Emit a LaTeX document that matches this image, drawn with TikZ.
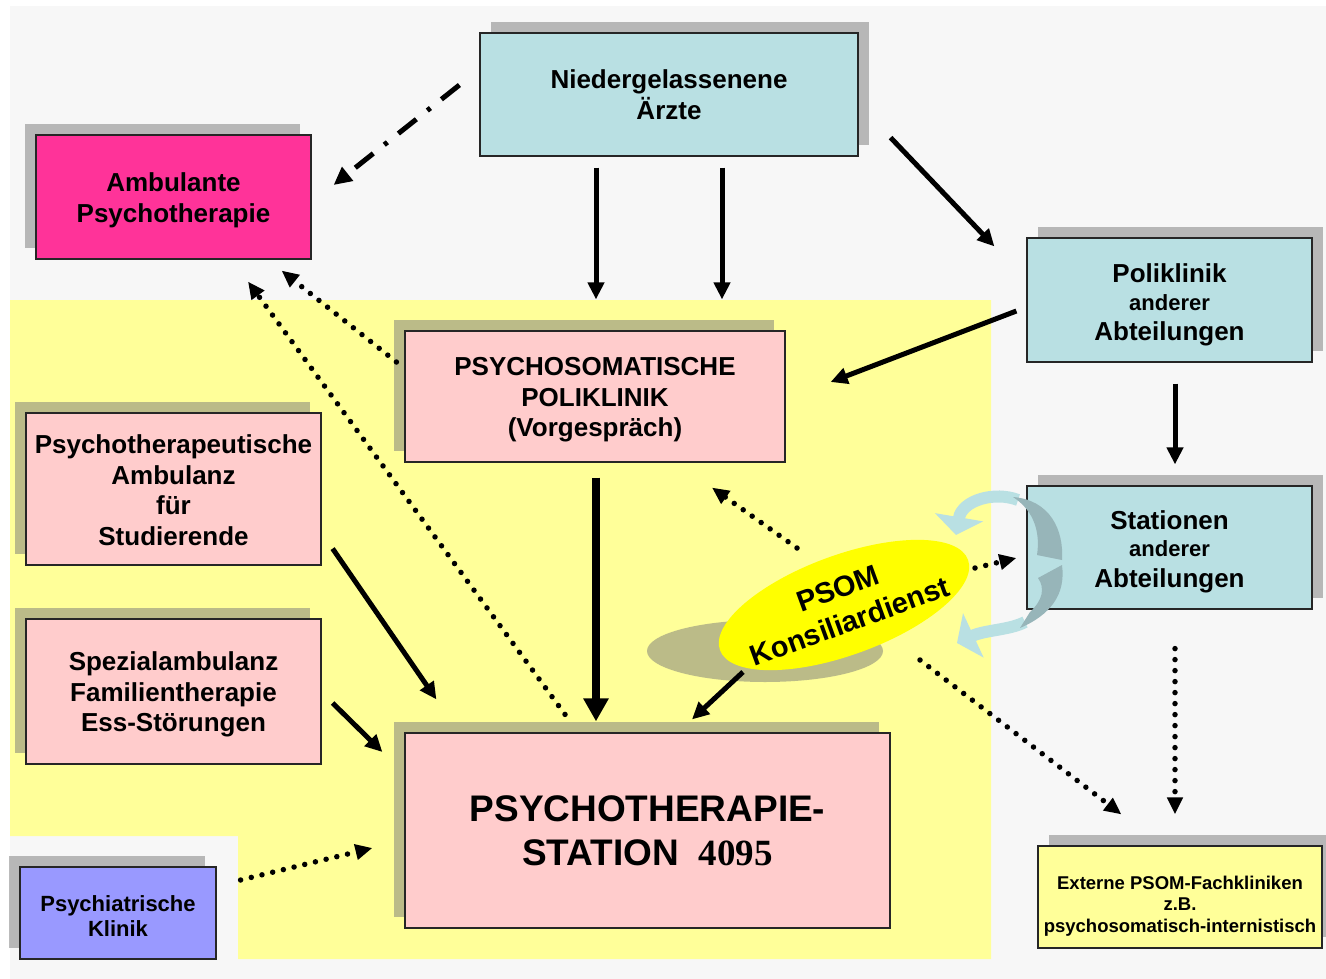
\documentclass[tikz,border=0pt]{standalone}
\usepackage{fontspec}
\setmainfont{Liberation Sans}
\newfontfamily\timesfont{Liberation Serif}
\usetikzlibrary{positioning, calc, shadows, shapes.geometric, arrows.meta}
\definecolor{bggray}{HTML}{F7F7F7}
\definecolor{areayellow}{HTML}{FFFF99}
\definecolor{boxblue}{HTML}{B9E0E3}
\definecolor{boxdarkblue}{HTML}{97B5B9}
\definecolor{boxpink}{HTML}{FFCCCC}
\definecolor{boxmagenta}{HTML}{FF3399}
\definecolor{boxviolet}{HTML}{9999FF}
\definecolor{psomyellow}{HTML}{FFFF00}
\definecolor{shadowgray}{HTML}{787878}
\newcommand{\lift}[1]{\rule{0pt}{#1}}
\tikzset{
	basebox/.style={
			shape=rectangle,
			draw=black!85,
			line width=1.2pt,
			inner sep=0pt,
			align=center,
			font=\bfseries\fontsize{26}{30.5}\selectfont
		},
	leftbox/.style={
			basebox,
			drop shadow={shadow xshift=-11pt, shadow yshift=11pt, fill=shadowgray, opacity=.5}
		},
	rightbox/.style={
			basebox,
			drop shadow={shadow xshift=11pt, shadow yshift=11pt, fill=shadowgray, opacity=.5}
		},
	psomshape/.style={
			ellipse,
			fill=psomyellow,
			minimum width=264pt,
			minimum height=100pt,
			inner sep=0pt
		},
	psomlabel/.style={
			align=center,
			inner sep=0pt,
			font=\bfseries\fontsize{29}{35}\selectfont
		}
}
\tikzset{
	flowarrow/.style={line width=5pt, -{Triangle[width=16pt,length=17pt]}},
	heavyarrow/.style={line width=8pt, -{Triangle[width=24pt,length=23pt]}},
	dotarrow/.style={line width=5.5pt, line cap=round, dash pattern=on 0pt off 11pt,
			-{Triangle[width=15pt,length=17pt]}},
	dashdotarrow/.style={line width=5pt, dash pattern=on 23pt off 14pt on 4pt off 14pt,
			-{Triangle[width=17pt,length=18pt]}},
	swirl/.style={draw=boxblue, line width=12pt, -{Triangle[width=48pt,length=18pt]}}
}

\begin{document}
\begin{tikzpicture}[x=1pt, y=-1pt]

  \useasboundingbox (0,0) rectangle (1326,979);
  \fill[white] (0,0) rectangle (1326,979);
  \fill[bggray] (10,6) rectangle (1326,979);
  \fill[areayellow] (10,300) -- (991,300) -- (991,959) -- (238,959) -- (238,836) -- (10,836) -- cycle;

  % shadow of the consultation ellipse
  \fill[shadowgray, opacity=.5] (765,651) ellipse [x radius=118, y radius=31];

  \node[rightbox, fill=boxblue, minimum width=378pt, minimum height=123pt] (aerzte) at (669,94.5) {Niedergelassenene\\Ärzte};
  \node[leftbox, fill=boxmagenta, minimum width=275pt, minimum height=124pt] (ambu) at (173.5,197) {\lift{25.7pt}Ambulante\\Psychotherapie};
  \node[leftbox, fill=boxpink, minimum width=380pt, minimum height=131pt] (psompoli) at (595,396.5) {\lift{24.6pt}PSYCHOSOMATISCHE\\POLIKLINIK\\(Vorgespräch)};
  \node[leftbox, fill=boxpink, minimum width=295pt, minimum height=152pt] (studamb) at (173.5,489) {\lift{21.6pt}Psychotherapeutische\\Ambulanz\\für\\Studierende};
  \node[leftbox, fill=boxpink, minimum width=295pt, minimum height=145pt] (spezamb) at (173.5,691.5) {\lift{24.7pt}Spezialambulanz\\Familientherapie\\Ess-Störungen};
  \node[leftbox, fill=boxviolet, minimum width=196pt, minimum height=92pt,
    font=\bfseries\fontsize{22}{25}\selectfont] (psychiat) at (118,913) {\lift{21.8pt}Psychiatrische\\Klinik};
  \node[leftbox, fill=boxpink, minimum width=485pt, minimum height=195pt,
    font=\bfseries\fontsize{37}{44}\selectfont] (station) at (647.5,830.5) {PSYCHOTHERAPIE-\\STATION\hspace{20pt}{\timesfont 4095}};
  \node[rightbox, fill=boxblue, minimum width=285pt, minimum height=124pt] (polio) at (1169.5,300) {\lift{28.7pt}Poliklinik\\[-3pt]{\fontsize{22}{29}\selectfont anderer}\\Abteilungen};
  \node[rightbox, fill=boxblue, minimum width=285pt, minimum height=123pt] (stat) at (1169.5,547.5) {\lift{26.7pt}Stationen\\[-3pt]{\fontsize{22}{29}\selectfont anderer}\\Abteilungen};
  \node[rightbox, fill=areayellow, minimum width=284pt, minimum height=102pt,
    font=\bfseries\fontsize{18.5}{21.5}\selectfont] (extern) at (1180,897) {\lift{31pt}Externe PSOM-Fachkliniken\\z.B.\\psychosomatisch-internistisch};

  \node[psomshape, rotate=20] (psomback) at (844,605) {};
  \node[psomlabel, rotate=20] (psom) at (844,605) {PSOM\\Konsiliardienst};

  % curved arrows round the wards
  \draw[swirl] (1018,500) .. controls (995,491) and (962,500) .. (956,535);
  \draw[swirl] (1025,622) .. controls (1010,630) and (985,630) .. (957,643);
  \fill[boxdarkblue] (1013,497) .. controls (1050,500) and (1064,530) .. (1062,560)
    -- (1037,555) .. controls (1040,535) and (1036,512) .. (1013,497) -- cycle;
  \fill[boxdarkblue] (1062,565) .. controls (1066,595) and (1050,615) .. (1020,628)
    -- (1030,612) .. controls (1043,600) and (1045,588) .. (1038,578) -- cycle;

  \draw[dashdotarrow] ([shift={(-20,-9.5)}]aerzte.west) -- ([shift={(22,-12)}]ambu.east);
  \draw[flowarrow] ([shift={(-73,11)}]aerzte.south) -- ([shift={(1,-31)}]psompoli.north);
  \draw[flowarrow] ([shift={(53,11)}]aerzte.south) -- ([shift={(127,-31)}]psompoli.north);
  \draw[flowarrow] ([shift={(32,-19)}]aerzte.south east) -- ([shift={(-32,9)}]polio.north west);
  \draw[flowarrow] ([shift={(-10,11)}]polio.west) -- ([shift={(45,-14.5)}]psompoli.east);
  \draw[flowarrow] ([shift={(5.5,21)}]polio.south) -- ([shift={(5.5,-21)}]stat.north);
  \draw[dotarrow] ([shift={(5.5,39)}]stat.south) -- ([shift={(-5,-31)}]extern.north);
  \draw[dotarrow] ([shift={(76,55)}]psom.center) -- ([shift={(84,-31)}]extern.north west);
  \draw[dotarrow] ([shift={(131,-37)}]psom.center) -- ([shift={(-10,10.5)}]stat.west);
  \draw[dotarrow] ([shift={(-47,-57)}]psom.center) -- ([shift={(117,25)}]psompoli.south);
  \draw[flowarrow] ([shift={(-101,67)}]psom.center) -- ([shift={(44.5,-13)}]station.north);
  \draw[heavyarrow] ([shift={(1,15)}]psompoli.south) -- ([shift={(-51.5,-11)}]station.north);
  \draw[dotarrow] ([shift={(-8,-34.5)}]psompoli.west) -- ([shift={(-30,11)}]ambu.south east);
  \draw[dotarrow] ([shift={(-82.5,-18)}]station.north) -- ([shift={(74.5,22)}]ambu.south);
  \draw[flowarrow] ([shift={(11,-17)}]studamb.south east) -- ([shift={(32,-33)}]station.north west);
  \draw[flowarrow] ([shift={(11,11.5)}]spezamb.east) -- ([shift={(-22,-78.5)}]station.west);
  \draw[dotarrow] ([shift={(24,-33)}]psychiat.east) -- ([shift={(-32,17.5)}]station.west);

\end{tikzpicture}
\end{document}
